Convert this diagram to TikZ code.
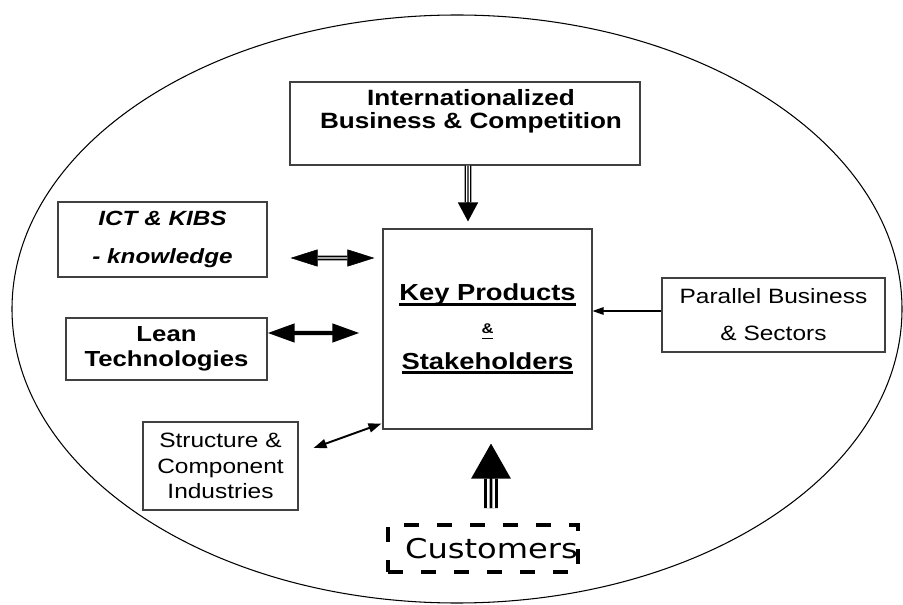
\documentclass[tikz,border=0pt]{standalone}
\usepackage{fontspec}
\usepackage{tikz}
\usetikzlibrary{arrows.meta}
\newfontfamily\arialfont[FakeStretch=1.18]{Liberation Sans}
\newfontfamily\custfont[FakeStretch=1.18]{DejaVu Sans}
\newcommand{\thickul}[2]{\setbox0=\hbox{#2}\rlap{\rule[-3pt]{\wd0}{#1}}\box0}

\begin{document}
\begin{tikzpicture}[
    framebox/.style={rectangle, draw=black!75, line width=0.6pt, inner sep=0pt, align=center},
    intltext/.style={font=\arialfont\bfseries\fontsize{12.6}{13}\selectfont, align=center, inner sep=0pt},
    icttext/.style={font=\arialfont\bfseries\itshape\fontsize{11.7}{22}\selectfont},
    leantext/.style={font=\arialfont\bfseries\fontsize{12.4}{14.2}\selectfont},
    keytext/.style={font=\arialfont\bfseries\fontsize{13.2}{19}\selectfont},
    plaintext/.style={font=\arialfont\fontsize{11.8}{#1}\selectfont},
    custbox/.style={rectangle, draw, line width=2.2pt, dash pattern=on 0.30cm off 0.36cm, inner sep=0pt, font=\custfont\fontsize{15.5}{18}\selectfont},
    thinshaft/.style={double, line width=0.85pt, double distance=2.27pt, shorten >=0.38cm},
    thincore/.style={line width=0.85pt, -{Triangle[length=0.38cm, width=0.40cm]}},
    bigshaft/.style={double, line width=1.7pt, double distance=4.5pt, shorten >=0.70cm},
    bigcore/.style={line width=1.7pt, -{Triangle[length=0.70cm, width=0.78cm]}},
    dbltips/.style={line width=0.3pt, {Triangle[length=0.54cm, width=0.34cm]}-{Triangle[length=0.54cm, width=0.34cm]}},
    dblshaft/.style={double, line width=1pt, double distance=0.8pt, shorten <=0.54cm, shorten >=0.54cm},
    leanarrow/.style={line width=2.3pt, {Triangle[length=0.54cm, width=0.36cm]}-{Triangle[length=0.54cm, width=0.36cm]}},
    structarrow/.style={line width=1.1pt, {Triangle[length=0.26cm, width=0.18cm]}-{Triangle[length=0.26cm, width=0.18cm]}},
    pararrow/.style={line width=0.7pt, -{Triangle[length=0.22cm, width=0.15cm]}}
]
\useasboundingbox (0,0) rectangle (18.06,-12.10);

% Outer ellipse around the whole system
\draw[line width=0.6pt] (9.14,-6.18) ellipse [x radius=8.90, y radius=5.88];

% Boxes
\node[framebox, minimum width=7.0cm, minimum height=1.66cm] (intl) at (9.30,-2.47) {};
\node[intltext] (intltxt) at (9.42,-2.22) {Internationalized\\Business \& Competition};
\node[framebox, icttext, minimum width=4.18cm, minimum height=1.5cm] (ict) at (3.25,-4.79) {ICT \& KIBS\\- knowledge};
\node[framebox, leantext, minimum width=4.02cm, minimum height=1.24cm] (lean) at (3.33,-6.98) {Lean\\Technologies};
\node[framebox, plaintext=14.5, minimum width=3.10cm, minimum height=1.76cm] (struct) at (4.41,-9.32) {Structure \&\\Component\\Industries};
\node[framebox, keytext, minimum width=4.18cm, minimum height=4.0cm] (key) at (9.75,-6.58) {\thickul{1.8pt}{Key Products}\\{\fontsize{8}{10}\selectfont\thickul{0.9pt}{\&}}\\[1pt]\thickul{1.8pt}{Stakeholders}};
\node[framebox, plaintext=21, minimum width=4.46cm, minimum height=1.48cm] (par) at (15.47,-6.30) {Parallel Business\\\& Sectors};
\node[custbox, minimum width=3.80cm, minimum height=0.94cm] (cust) at (9.66,-10.97) {\hspace*{0.34cm}Customers};

% Arrows into the key box
\draw[thinshaft] ([xshift=0.06cm]intl.south) -- ([xshift=-0.39cm,yshift=0.14cm]key.north);
\draw[thincore] ([xshift=0.06cm]intl.south) -- ([xshift=-0.39cm,yshift=0.14cm]key.north);
\draw[dbltips] ([xshift=0.46cm,yshift=-0.37cm]ict.east) -- ([xshift=-0.16cm,yshift=1.42cm]key.west);
\draw[dblshaft] ([xshift=0.46cm,yshift=-0.37cm]ict.east) -- ([xshift=-0.16cm,yshift=1.42cm]key.west);
\draw[leanarrow] ([yshift=0.32cm]lean.east) -- ([xshift=-0.46cm,yshift=-0.08cm]key.west);
\draw[structarrow] ([xshift=0.30cm,yshift=0.36cm]struct.east) -- ([xshift=-0.02cm,yshift=0.12cm]key.south west);
\draw[pararrow] ([yshift=0.08cm]par.west) -- ([yshift=0.36cm]key.east);
\draw[bigshaft] ([xshift=0.16cm,yshift=0.30cm]cust.north) -- ([xshift=0.07cm,yshift=-0.28cm]key.south);
\draw[bigcore] ([xshift=0.16cm,yshift=0.30cm]cust.north) -- ([xshift=0.07cm,yshift=-0.28cm]key.south);

\end{tikzpicture}
\end{document}
